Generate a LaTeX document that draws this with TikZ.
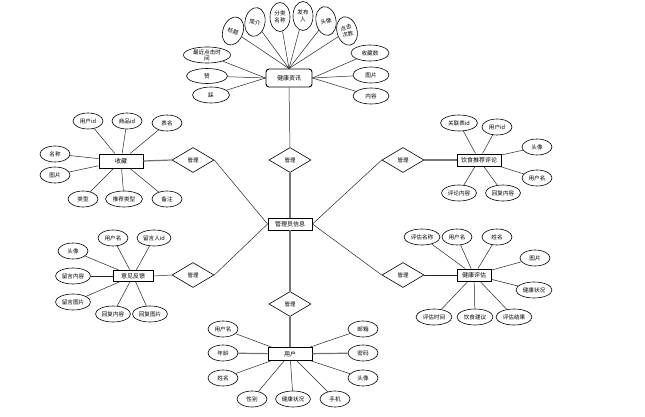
\documentclass[tikz,border=0pt]{standalone}
\usepackage{fontspec}
\setmainfont{Noto Sans CJK SC}
\usetikzlibrary{shapes.geometric}
\begin{document}
\begin{tikzpicture}[x=1pt,y=-1pt,
 attr/.style={ellipse,draw=black,line width=0.6pt,minimum width=30pt,minimum height=16pt,inner sep=0pt,align=center,font=\fontsize{5.6}{6.2}\selectfont},
 tattr/.style={attr,minimum width=20pt,minimum height=29pt,font=\fontsize{5.6}{7.2}\selectfont},
 ent/.style={rectangle,draw=black,line width=0.9pt,minimum width=44pt,minimum height=12pt,inner sep=0pt,font=\fontsize{6}{6}\selectfont},
 rel/.style={diamond,draw=black,line width=0.6pt,minimum width=42pt,minimum height=25pt,inner sep=0pt,font=\fontsize{5.5}{6}\selectfont},
 ln/.style={draw=black!85,line width=0.5pt},
 thk/.style={draw=black!55,line width=1.2pt}]
\useasboundingbox[fill=white] (0,0) rectangle (645,417);

% central
\node[ent] (gl) at (290,224) {管理员信息};
\node[rel] (rt) at (290,160) {管理};
\node[rel] (rb) at (290,304) {管理};
\node[rel] (rl1) at (193,160) {管理};
\node[rel] (rl2) at (193,275) {管理};
\node[rel] (rr1) at (403,160) {管理};
\node[rel] (rr2) at (403,275) {管理};
\draw[thk] (rt.south) -- (gl.north);
\draw[thk] (gl.south) -- (rb.north);
\draw[ln] (rl1.east) -- (gl.west);
\draw[ln] (rl2.east) -- (gl.west);
\draw[ln] (rr1.west) -- (gl.east);
\draw[ln] (rr2.west) -- (gl.east);

% health info
\node[ent,rounded corners=3pt,minimum width=46pt,minimum height=18pt] (zx) at (289,78) {健康资讯};
\draw[ln] (zx.south) -- (rt.north);
\node[tattr,rotate=-20] (z1) at (233,31) {标题};
\node[tattr,rotate=-10] (z2) at (255,22) {简介};
\node[tattr] (z3) at (280,17) {分类\\名称};
\node[tattr] (z4) at (303,16) {发布\\人};
\node[tattr,rotate=10] (z5) at (326,21) {头像};
\node[tattr,rotate=15] (z6) at (347,31) {点击\\次数};
\foreach \i in {1,...,6} \draw[ln] (z\i) -- (zx.north);
\node[attr,minimum width=47pt] (z7) at (207,55) {最近点击时\\间};
\node[attr,minimum width=41pt,minimum height=15pt] (z8) at (207,76) {赞};
\node[attr,minimum width=37pt] (z9) at (211,95) {踩};
\foreach \i in {7,8,9} \draw[ln] (z\i) -- (zx.west);
\node[attr,minimum width=38pt] (z10) at (370,53) {收藏数};
\node[attr,minimum width=36pt] (z11) at (371,75) {图片};
\node[attr,minimum width=36pt] (z12) at (371,96) {内容};
\foreach \i in {10,11,12} \draw[ln] (z\i) -- (zx.east);

% favourites
\node[ent,minimum height=14pt] (sc) at (121,161) {收藏};
\draw[thk] (sc.east) -- (rl1.west);
\node[attr] (s1) at (88,121) {用户id};
\node[attr] (s2) at (127,121) {商品id};
\node[attr] (s3) at (167,123) {表名};
\node[attr] (s4) at (55,154) {名称};
\node[attr] (s5) at (55,175) {图片};
\node[attr] (s6) at (83,199) {类型};
\node[attr,minimum width=37pt] (s7) at (124,199) {推荐类型};
\node[attr] (s8) at (167,199) {备注};
\foreach \i in {1,...,8} \draw[ln] (s\i) -- (sc);

% diet recommendation comments
\node[ent] (pl) at (479,160) {饮食推荐评论};
\draw[thk] (rr1.east) -- (pl.west);
\node[attr,minimum width=37pt] (p1) at (459,123) {关联表id};
\node[attr] (p2) at (497,127) {用户id};
\node[attr] (p3) at (537,147) {头像};
\node[attr] (p4) at (537,178) {用户名};
\node[attr,minimum width=35pt] (p5) at (459,193) {评论内容};
\node[attr,minimum width=35pt] (p6) at (503,193) {回复内容};
\foreach \i in {1,...,6} \draw[ln] (p\i) -- (pl);

% feedback
\node[ent,minimum width=40pt,minimum height=11pt] (fk) at (133,276) {意见反馈};
\draw[ln] (fk.east) -- (rl2.west);
\node[attr] (f1) at (113,238) {用户名};
\node[attr,minimum width=34pt] (f2) at (154,238) {留言人id};
\node[attr] (f3) at (73,251) {头像};
\node[attr,minimum width=35pt] (f4) at (73,276) {留言内容};
\node[attr,minimum width=35pt] (f5) at (73,302) {留言图片};
\node[attr,minimum width=35pt] (f6) at (113,314) {回复内容};
\node[attr,minimum width=35pt] (f7) at (150,314) {回复图片};
\foreach \i in {1,...,7} \draw[ln] (f\i) -- (fk);

% health assessment
\node[ent,minimum width=34pt] (pg) at (474,275) {健康评估};
\draw[ln] (rr2.east) -- (pg.west);
\node[attr,minimum width=36pt] (g1) at (422,237) {评估名称};
\node[attr] (g2) at (457,237) {用户名};
\node[attr] (g3) at (497,237) {姓名};
\node[attr] (g4) at (535,258) {图片};
\node[attr,minimum width=36pt] (g5) at (534,290) {健康状况};
\node[attr,minimum width=36pt] (g6) at (434,317) {评估时间};
\node[attr,minimum width=36pt] (g7) at (475,317) {饮食建议};
\node[attr,minimum width=36pt] (g8) at (514,317) {评估结果};
\foreach \i in {1,...,8} \draw[ln] (g\i) -- (pg);

% user
\node[ent,minimum height=13pt] (yh) at (290,354) {用户};
\draw[thk] (rb.south) -- (yh.north);
\node[attr] (u1) at (223,329) {用户名};
\node[attr] (u2) at (223,353) {年龄};
\node[attr] (u3) at (223,378) {姓名};
\node[attr] (u4) at (252,399) {性别};
\node[attr,minimum width=35pt] (u5) at (293,399) {健康状况};
\node[attr] (u6) at (335,399) {手机};
\node[attr] (u7) at (363,329) {邮箱};
\node[attr] (u8) at (363,353) {密码};
\node[attr] (u9) at (363,378) {头像};
\foreach \i in {1,3,4,5,6,7,9} \draw[ln] (u\i) -- (yh);
\draw[thk] (u2) -- (yh);
\draw[thk] (u8) -- (yh);
\end{tikzpicture}
\end{document}
